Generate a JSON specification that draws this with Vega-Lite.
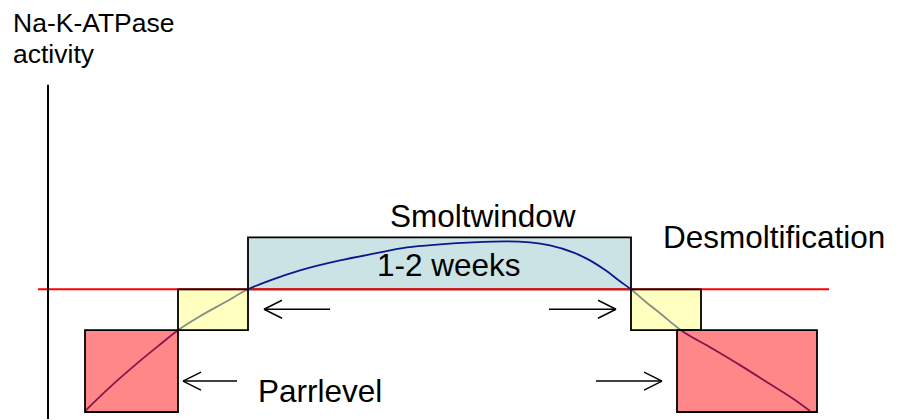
{
  "$schema": "https://vega.github.io/schema/vega-lite/v6.json",
  "width": 908,
  "height": 420,
  "padding": 0,
  "autosize": {"type": "fit", "contains": "padding"},
  "background": "white",
  "config": {"view": {"stroke": null}},
  "datasets": {
    "curve": [
      {"t": 85, "a": 8}, {"t": 110, "a": 32}, {"t": 135, "a": 54}, {"t": 158, "a": 73}, {"t": 178, "a": 89},
      {"t": 200, "a": 103}, {"t": 225, "a": 117}, {"t": 248, "a": 130},
      {"t": 273, "a": 140}, {"t": 300, "a": 149}, {"t": 340, "a": 159}, {"t": 375, "a": 166},
      {"t": 407, "a": 172}, {"t": 440, "a": 175}, {"t": 473, "a": 177}, {"t": 507, "a": 178},
      {"t": 530, "a": 177}, {"t": 550, "a": 174}, {"t": 573, "a": 167}, {"t": 590, "a": 159},
      {"t": 607, "a": 148}, {"t": 620, "a": 138}, {"t": 631, "a": 130},
      {"t": 645, "a": 118}, {"t": 660, "a": 106}, {"t": 681, "a": 89},
      {"t": 710, "a": 72}, {"t": 740, "a": 54}, {"t": 770, "a": 35}, {"t": 795, "a": 19}, {"t": 810, "a": 8}
    ],
    "window": [
      {"t": 248, "t2": 631, "a": 130, "a2": 182}
    ],
    "phases": [
      {"t": 85, "t2": 178, "a": 7, "a2": 89, "phase": "parr"},
      {"t": 178, "t2": 248, "a": 89, "a2": 130, "phase": "transition"},
      {"t": 631, "t2": 701, "a": 89, "a2": 130, "phase": "transition"},
      {"t": 677, "t2": 817, "a": 7, "a2": 89, "phase": "parr"}
    ],
    "level": [
      {"t": 38, "t2": 829, "a": 130, "a2": 130}
    ],
    "axisline": [
      {"t": 48, "t2": 48, "a": 0, "a2": 335}
    ],
    "arrows": [
      {"t": 264, "a": 110, "t2": 330, "a2": 110},
      {"t": 264, "a": 110, "t2": 282, "a2": 119},
      {"t": 264, "a": 110, "t2": 282, "a2": 101},
      {"t": 183, "a": 38, "t2": 237, "a2": 38},
      {"t": 183, "a": 38, "t2": 201, "a2": 47},
      {"t": 183, "a": 38, "t2": 201, "a2": 29},
      {"t": 549, "a": 110, "t2": 616, "a2": 110},
      {"t": 616, "a": 110, "t2": 598, "a2": 119},
      {"t": 616, "a": 110, "t2": 598, "a2": 101},
      {"t": 596, "a": 38, "t2": 662, "a2": 38},
      {"t": 662, "a": 38, "t2": 644, "a2": 47},
      {"t": 662, "a": 38, "t2": 644, "a2": 29}
    ],
    "labels": [
      {"label": "Smoltwindow", "t": 390, "a": 192},
      {"label": "1-2 weeks", "t": 377, "a": 143},
      {"label": "Desmoltification", "t": 663, "a": 171},
      {"label": "Parrlevel", "t": 258, "a": 17}
    ],
    "title": [
      {"label": "Na-K-ATPase", "t": 13, "a": 388},
      {"label": "activity", "t": 13, "a": 357}
    ]
  },
  "encoding": {
    "x": {"field": "t", "type": "quantitative", "scale": {"domain": [0, 908], "nice": false, "zero": false}, "axis": null},
    "y": {"field": "a", "type": "quantitative", "scale": {"domain": [0, 420], "nice": false, "zero": false}, "axis": null}
  },
  "layer": [
    {
      "data": {"name": "window"},
      "mark": {"type": "rect", "fill": "#cbe3e5", "stroke": "#000000", "strokeWidth": 1.8},
      "encoding": {"x2": {"field": "t2"}, "y2": {"field": "a2"}}
    },
    {
      "data": {"name": "level"},
      "mark": {"type": "rule", "color": "#ff0000", "strokeWidth": 2},
      "encoding": {"x2": {"field": "t2"}, "y2": {"field": "a2"}}
    },
    {
      "data": {"name": "curve"},
      "mark": {"type": "line", "color": "#0a1a8c", "strokeWidth": 1.8, "interpolate": "monotone"},
      "encoding": {"order": {"field": "t", "type": "quantitative"}}
    },
    {
      "data": {"name": "phases"},
      "mark": {"type": "rect", "fillOpacity": 0.5, "stroke": "#000000", "strokeOpacity": 1, "strokeWidth": 1.8},
      "encoding": {
        "x2": {"field": "t2"},
        "y2": {"field": "a2"},
        "fill": {"field": "phase", "type": "nominal", "scale": {"domain": ["parr", "transition"], "range": ["#ff1010", "#ffff80"]}, "legend": null}
      }
    },
    {
      "data": {"name": "axisline"},
      "mark": {"type": "rule", "color": "#000000", "strokeWidth": 2},
      "encoding": {"x2": {"field": "t2"}, "y2": {"field": "a2"}}
    },
    {
      "data": {"name": "arrows"},
      "mark": {"type": "rule", "color": "#000000", "strokeWidth": 1.5},
      "encoding": {"x2": {"field": "t2"}, "y2": {"field": "a2"}}
    },
    {
      "data": {"name": "labels"},
      "mark": {"type": "text", "align": "left", "baseline": "alphabetic", "font": "Liberation Sans", "fontSize": 31.5, "color": "#000000"},
      "encoding": {"text": {"field": "label"}}
    },
    {
      "data": {"name": "title"},
      "mark": {"type": "text", "align": "left", "baseline": "alphabetic", "font": "Liberation Sans", "fontSize": 26.5, "color": "#000000"},
      "encoding": {"text": {"field": "label"}}
    }
  ]
}
